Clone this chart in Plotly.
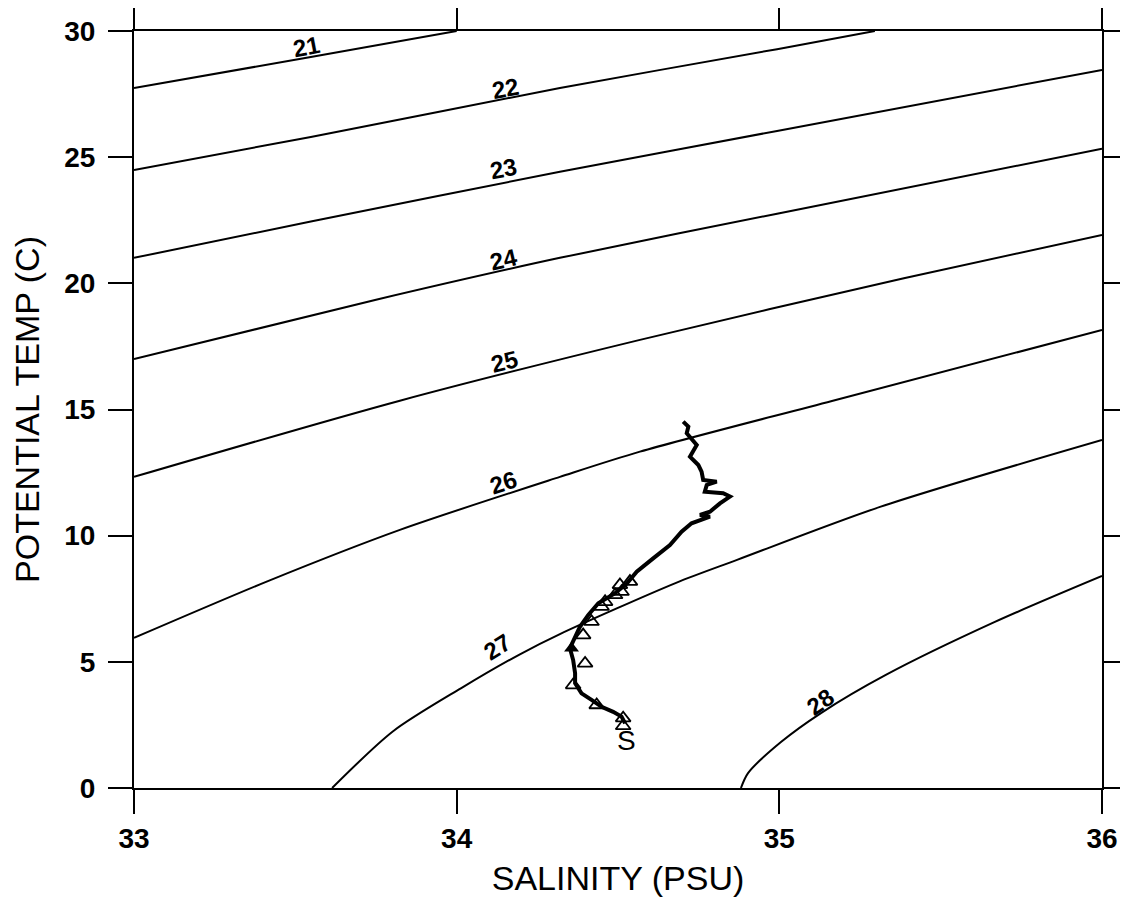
import plotly.graph_objects as go

# isopycnals (sigma-theta): salinity / potential temp pairs
sig21_s = [33.0, 33.548, 34.0]
sig21_t = [27.74, 28.97, 30.0]
sig22_s = [33.0, 33.548, 34.32, 34.993, 35.296]
sig22_t = [24.49, 25.80, 27.74, 29.28, 30.0]
sig23_s = [33.0, 33.548, 34.32, 34.993, 36.0]
sig23_t = [21.01, 22.45, 24.42, 26.04, 28.46]
sig24_s = [33.0, 33.747, 34.32, 34.993, 36.0]
sig24_t = [17.00, 19.34, 21.01, 22.76, 25.33]
sig25_s = [33.0, 33.824, 34.568, 35.386, 36.0]
sig25_t = [12.33, 15.35, 17.76, 20.20, 21.92]
sig26_s = [33.0, 33.415, 33.824, 34.32, 34.568, 35.163, 36.0]
sig26_t = [5.95, 8.20, 10.23, 12.33, 13.33, 15.34, 18.15]
sig27_s = [33.614, 33.803, 34.013, 34.196, 34.32, 34.68, 34.869, 35.312, 36.0]
sig27_t = [0.0, 2.25, 3.95, 5.30, 6.10, 8.13, 9.04, 11.14, 13.79]
sig28_s = [34.881, 34.903, 35.005, 35.129, 35.33, 35.668, 36.0]
sig28_t = [0.0, 0.59, 1.82, 2.97, 4.48, 6.58, 8.40]

isopycnals = [
    (sig21_s, sig21_t), (sig22_s, sig22_t), (sig23_s, sig23_t), (sig24_s, sig24_t),
    (sig25_s, sig25_t), (sig26_s, sig26_t), (sig27_s, sig27_t), (sig28_s, sig28_t),
]

# contour labels: text, salinity, temp, angle
label_text = ["21", "22", "23", "24", "25", "26", "27", "28"]
label_s = [33.535, 34.150, 34.145, 34.145, 34.147, 34.144, 34.128, 35.129]
label_t = [29.40, 27.73, 24.56, 20.93, 16.90, 12.10, 5.60, 3.42]
label_angle = [-11, -11, -11, -13, -14, -18, -32, -35]

# T-S profile
prof_s = [34.702, 34.718, 34.713, 34.728, 34.744, 34.723, 34.749, 34.759, 34.764, 34.806,
          34.775, 34.769, 34.826, 34.847, 34.816, 34.785, 34.754, 34.785, 34.728, 34.697,
          34.661, 34.609, 34.558, 34.528, 34.491, 34.439, 34.408, 34.382, 34.367, 34.351,
          34.361, 34.367, 34.367, 34.387, 34.418, 34.449, 34.485, 34.511, 34.522]
prof_t = [14.52, 14.32, 14.06, 13.86, 13.59, 13.13, 12.80, 12.54, 12.21, 12.14,
          12.01, 11.74, 11.68, 11.55, 11.28, 10.95, 10.82, 10.75, 10.49, 10.16,
          9.63, 9.10, 8.57, 8.11, 7.72, 7.32, 6.86, 6.39, 6.00, 5.54,
          5.07, 4.55, 4.15, 3.75, 3.49, 3.22, 3.02, 2.83, 2.56]

# bottle samples (triangles)
tri_s = [34.537, 34.506, 34.511, 34.491, 34.460, 34.449, 34.418, 34.392,
         34.398, 34.361, 34.434, 34.516, 34.516]
tri_t = [8.18, 8.05, 7.78, 7.65, 7.38, 7.19, 6.59, 6.06,
         4.94, 4.08, 3.29, 2.77, 2.46]
tri_fill_s = [34.356]
tri_fill_t = [5.54]

fig = go.Figure()

for s, t in isopycnals:
    fig.add_trace(go.Scatter(x=s, y=t, mode="lines",
                             line=dict(color="black", width=2, shape="spline", smoothing=0.8),
                             showlegend=False, hoverinfo="skip"))

fig.add_trace(go.Scatter(x=prof_s, y=prof_t, mode="lines", line=dict(color="black", width=4),
                         showlegend=False))
fig.add_trace(go.Scatter(x=tri_s, y=tri_t, mode="markers",
                         marker=dict(symbol="triangle-up-open", size=13, color="black", line=dict(width=1.8)),
                         showlegend=False))
fig.add_trace(go.Scatter(x=tri_fill_s, y=tri_fill_t, mode="markers",
                         marker=dict(symbol="triangle-up", size=13, color="black"),
                         showlegend=False))

for txt, s, t, a in zip(label_text, label_s, label_t, label_angle):
    fig.add_annotation(x=s, y=t, text=txt, textangle=a, showarrow=False,
                       font=dict(family="Liberation Sans", size=24, color="black", weight="bold"))

fig.add_annotation(x=34.527, y=1.90, text="S", showarrow=False,
                   font=dict(family="Liberation Sans", size=28, color="black"))

axis_common = dict(showline=True, linewidth=2, linecolor="black", mirror="ticks",
                   ticks="outside", ticklen=24, tickwidth=2, tickcolor="black",
                   showgrid=False, zeroline=False,
                   tickfont=dict(family="Liberation Sans", size=28, color="black", weight="bold"))

fig.update_xaxes(range=[33, 36], tickvals=[33, 34, 35, 36], ticklabelstandoff=0,
                 title=dict(text="SALINITY (PSU)", standoff=14,
                            font=dict(family="Liberation Sans", size=34, color="black")),
                 **axis_common)
fig.update_yaxes(range=[0, 30], tickvals=[0, 5, 10, 15, 20, 25, 30], ticklabelstandoff=7,
                 title=dict(text="POTENTIAL TEMP (C)", standoff=22,
                            font=dict(family="Liberation Sans", size=34, color="black")),
                 **axis_common)

# page body has an 8px margin, so the figure is trimmed by that amount
fig.update_layout(width=1120, height=897, margin=dict(l=126, r=26, t=23, b=117, autoexpand=False),
                  plot_bgcolor="white", paper_bgcolor="white")

fig.write_html("out.html")
